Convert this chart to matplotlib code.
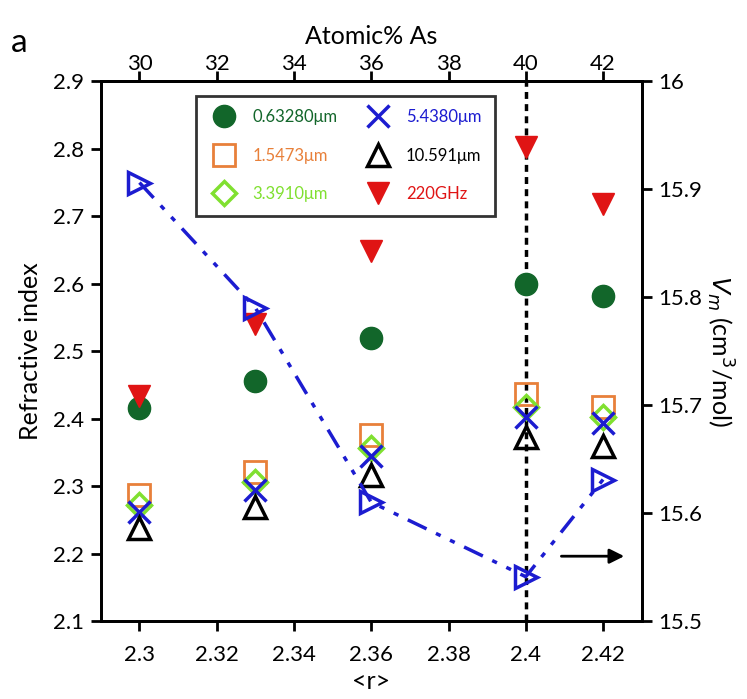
import matplotlib
matplotlib.use("Agg")
import matplotlib.pyplot as plt

plt.rcParams["font.family"] = ["Lato", "DejaVu Sans"]

# mean coordination number <r>
r = [2.30, 2.33, 2.36, 2.40, 2.42]

# refractive index at each wavelength / frequency
n_0633 = [2.415, 2.455, 2.520, 2.600, 2.581]
n_1547 = [2.287, 2.321, 2.375, 2.436, 2.417]
n_3391 = [2.272, 2.306, 2.356, 2.417, 2.402]
n_5438 = [2.261, 2.294, 2.345, 2.402, 2.393]
n_10591 = [2.238, 2.269, 2.317, 2.373, 2.359]
n_220ghz = [2.434, 2.540, 2.648, 2.803, 2.718]

# molar volume (right axis)
vm = [15.906, 15.790, 15.610, 15.541, 15.631]

labels = ["0.63280μm", "1.5473μm", "3.3910μm", "5.4380μm", "10.591μm", "220GHz"]

fig = plt.figure(figsize=(7.47, 6.99), dpi=100)
ax = fig.add_axes([0.135, 0.1116, 0.724, 0.7724])

green_dk = "#12662a"
orange = "#e8803a"
green_lt = "#80e030"
blue = "#1c1cd0"
red = "#e01414"

h1, = ax.plot(r, n_0633, "o", ms=16, color=green_dk, ls="none")
h2, = ax.plot(r, n_1547, "s", ms=16, mfc="none", mec=orange, mew=2, ls="none")
h3, = ax.plot(r, n_3391, "D", ms=12, mfc="none", mec=green_lt, mew=2.5, ls="none")
h4, = ax.plot(r, n_5438, "x", ms=16, color=blue, mew=2.5, ls="none")
h5, = ax.plot(r, n_10591, "^", ms=16, mfc="none", mec="black", mew=2.5, ls="none")
h6, = ax.plot(r, n_220ghz, "v", ms=16, color=red, ls="none")

ax.axvline(2.40, color="black", ls=(0, (2, 1.5)), lw=2.5, zorder=0)

ax.set_xlim(2.29, 2.43)
ax.set_ylim(2.1, 2.9)
ax.set_xticks([2.30, 2.32, 2.34, 2.36, 2.38, 2.40, 2.42])
ax.set_xticklabels(["2.3", "2.32", "2.34", "2.36", "2.38", "2.4", "2.42"])
ax.set_yticks([2.1, 2.2, 2.3, 2.4, 2.5, 2.6, 2.7, 2.8, 2.9])
ax.set_xlabel("<r>", fontsize=18, labelpad=4)
ax.set_ylabel("Refractive index", fontsize=18, labelpad=8)

# molar volume on the right axis
ax2 = ax.twinx()
ax2.plot(r, vm, ">", ms=16, mfc="none", mec=blue, mew=2.5,
         color=blue, ls=(0, (6, 3, 1.5, 3, 1.5, 3)), lw=2.5)
ax2.set_ylim(15.5, 16.0)
ax2.set_yticks([15.5, 15.6, 15.7, 15.8, 15.9, 16.0])
ax2.set_yticklabels(["15.5", "15.6", "15.7", "15.8", "15.9", "16"])
ax2.set_ylabel("$V_m$ (cm$^3$/mol)", fontsize=18, rotation=-90, labelpad=24)

ax.annotate("", xy=(2.4262, 2.196), xytext=(2.4085, 2.196),
            arrowprops=dict(arrowstyle="-|>", color="black", lw=2,
                            mutation_scale=22))

# composition scale on top
top = ax.secondary_xaxis("top", functions=(lambda x: 100 * x - 200,
                                           lambda a: (a + 200) / 100))
top.set_xticks([30, 32, 34, 36, 38, 40, 42])
top.set_xlabel("Atomic% As", fontsize=18, labelpad=7)

for a in (ax, ax2, top):
    a.tick_params(labelsize=16, width=2, length=7, direction="out", pad=5)
ax.tick_params(axis="x", pad=10)
top.tick_params(pad=-2)
for s in ax.spines.values():
    s.set_linewidth(2)
for s in ax2.spines.values():
    s.set_linewidth(2)
top.spines["top"].set_linewidth(2)

leg = ax.legend([h1, h2, h3, h4, h5, h6], labels, ncol=2,
                loc="upper left", bbox_to_anchor=(0.16, 0.988),
                fontsize=12, frameon=True, fancybox=False,
                handletextpad=0.8, columnspacing=1.5, labelspacing=1.35,
                borderpad=0.8, handlelength=1.8)
leg.get_frame().set_edgecolor("black")
leg.get_frame().set_linewidth(2)
for txt, c in zip(leg.get_texts(), [green_dk, orange, green_lt, blue, "black", red]):
    txt.set_color(c)

fig.text(0.015, 0.925, "a", fontsize=24)

fig.savefig("out.png", dpi=100)
